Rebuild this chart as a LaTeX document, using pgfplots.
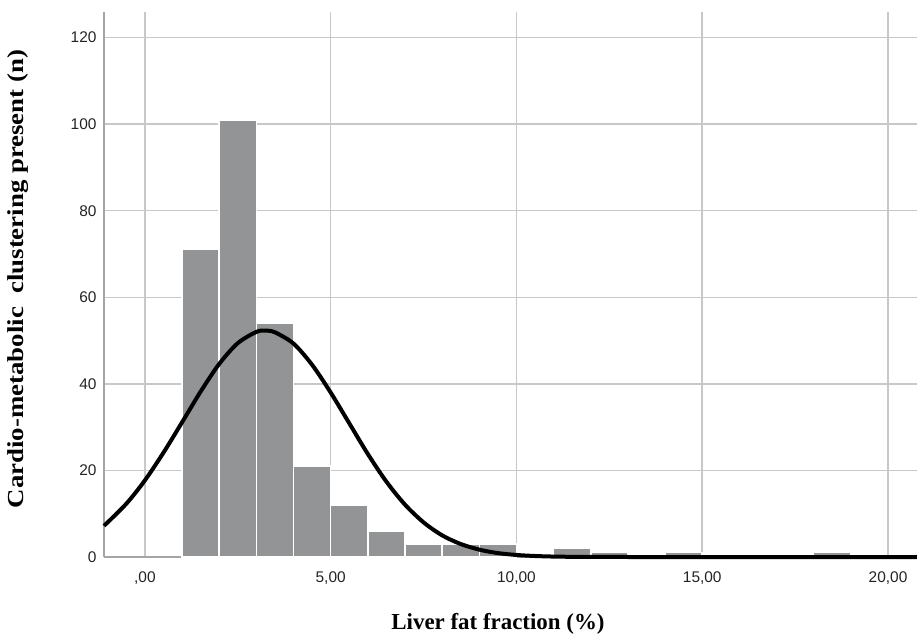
\documentclass[border=0pt]{standalone}
\usepackage{graphicx}
\usepackage{pgfplots}
\pgfplotsset{compat=1.18}
\usepackage{fontspec}
\setmainfont{Liberation Serif}
\newfontfamily\arial{Liberation Sans}
\definecolor{bargray}{RGB}{146,148,150}
\definecolor{gridgray}{RGB}{200,200,200}
\definecolor{axgray}{RGB}{165,165,165}
\definecolor{ticktext}{RGB}{35,35,35}
\begin{document}
\begin{tikzpicture}
\useasboundingbox (-104bp,-83bp) rectangle (813bp,557bp);
\begin{axis}[
  scale only axis,
  width=813bp, height=545bp,
  xmin=-1.10, xmax=20.78,
  ymin=0, ymax=125.9,
  axis lines*=left,
  axis line style={axgray, line width=1.5bp},
  grid=major,
  grid style={gridgray, line width=1.5bp},
  major tick length=0pt,
  xtick={0,5,10,15,20},
  xticklabels={{,00},{5,00},{10,00},{15,00},{20,00}},
  ytick={0,20,40,60,80,100,120},
  /pgf/number format/assume math mode=true,
  tick label style={font=\arial\fontsize{15.5}{16}\selectfont, text=ticktext},
  xticklabel style={yshift=-11bp},
  yticklabel style={xshift=-4bp},
  clip=false,
]
\addplot[ybar interval, fill=bargray, draw=white, line width=1.5bp] coordinates {
  (1,71) (2,101) (3,54) (4,21) (5,12) (6,6) (7,3) (8,3) (9,3) (10,0)
};
\addplot[ybar interval, fill=bargray, draw=white, line width=1.5bp] coordinates {
  (11,2) (12,1) (13,0)
};
\addplot[ybar interval, fill=bargray, draw=white, line width=1.5bp] coordinates {
  (14,1) (15,0)
};
\addplot[ybar interval, fill=bargray, draw=white, line width=1.5bp] coordinates {
  (18,1) (19,0)
};
\addplot[black, line width=4bp, smooth, no marks] coordinates {
  (-1.10,7.2) (-0.5,12.3) (0,17.7) (0.5,24.1) (1.0,31.1) (1.5,38.2) (2.0,44.6)
  (2.5,49.4) (3.0,52.0) (3.24,52.3) (3.5,51.9) (4.0,49.3) (4.5,44.4) (5.0,38.0)
  (5.5,30.9) (6.0,23.8) (6.5,17.4) (7.0,12.1) (7.5,8.0) (8.0,5.0) (8.5,3.0)
  (9.0,1.7) (9.5,0.9) (10.0,0.47) (10.5,0.23) (11.0,0.10) (11.5,0.04)
  (12.0,0.01) (13.0,0) (20.78,0)
};
\end{axis}
\node[font=\bfseries\fontsize{23}{24}\selectfont] at (394bp,-67bp) {Liver fat fraction (\%)};
\node[rotate=90, font=\bfseries\fontsize{23}{24}\selectfont] at (-86bp,278bp) {\scalebox{1.17}[1]{Cardio-metabolic\ \ clustering present (n)}};
\end{tikzpicture}
\end{document}
